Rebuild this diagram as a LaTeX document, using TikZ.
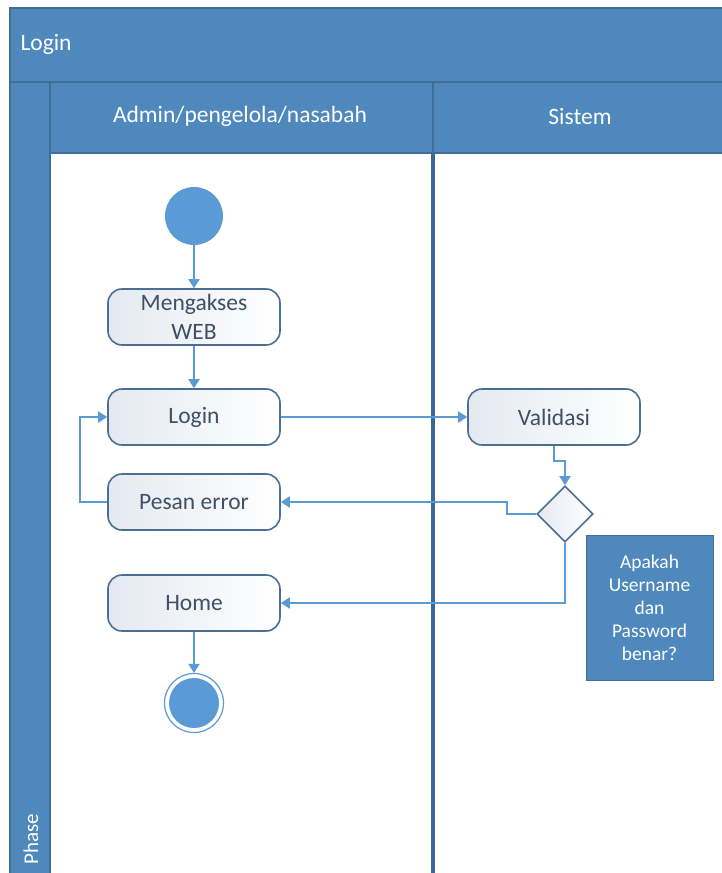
\documentclass[tikz,border=0pt]{standalone}
\usepackage{fontspec}
\setmainfont{Carlito}
\usetikzlibrary{arrows.meta,shapes.geometric}
\definecolor{hdr}{HTML}{4F88BC}
\definecolor{hdrline}{HTML}{3D6E9C}
\definecolor{divline}{HTML}{3A6A98}
\definecolor{flow}{HTML}{5B9BD5}
\definecolor{boxline}{HTML}{4A6F92}
\definecolor{boxtext}{HTML}{3E5064}
\definecolor{boxshade}{HTML}{E4E9F1}
\begin{document}
\begin{tikzpicture}[x=1pt,y=-1pt,
  actbox/.style={draw=boxline,line width=1.6pt,rounded corners=14pt,
    left color=boxshade,right color=white,minimum width=172pt,minimum height=56pt,
    inner sep=0pt,text=boxtext,font=\fontsize{23.5}{29}\selectfont,align=center},
  flowline/.style={draw=flow,line width=1.8pt,-{Triangle[length=9pt,width=11pt]}},
  lanetext/.style={text=white,font=\fontsize{23.5}{28}\selectfont}]
\useasboundingbox (0,0) rectangle (721,873);
% pool frame and headers
\fill[white] (0,0) rectangle (721,873);
\filldraw[fill=hdr,draw=hdrline,line width=1.2pt] (10,8) rectangle (730,82);
\filldraw[fill=hdr,draw=hdrline,line width=1.2pt] (10,82) rectangle (50,880);
\filldraw[fill=hdr,draw=hdrline,line width=1.2pt] (50,82) rectangle (730,153);
\draw[hdrline,line width=1.2pt] (433,82) -- (433,153);
\fill[white] (51,154) rectangle (730,880);
\draw[divline,line width=3.2pt] (433,153) -- (433,880);
\node[lanetext,anchor=west] (pool) at (17,44) {Login};
\node[lanetext] (lane1) at (240,116) {Admin/pengelola/nasabah};
\node[lanetext] (lane2) at (580,116) {Sistem};
\node[text=white,font=\fontsize{21}{24}\selectfont,rotate=90,anchor=west] (phase) at (31,868) {Phase};
% activity nodes
\node[circle,fill=flow,minimum size=58pt,inner sep=0pt] (start) at (194,216) {};
\node[actbox] (web) at (194,317) {Mengakses\\WEB};
\node[actbox] (login) at (194,417) {Login};
\node[actbox] (pesan) at (194,502) {Pesan error};
\node[actbox] (home) at (194,603) {Home};
\node[circle,draw=flow,line width=1.2pt,fill=white,minimum size=59pt,inner sep=0pt] (end) at (194,703) {};
\node[circle,fill=flow,minimum size=50pt,inner sep=0pt] (endin) at (194,703) {};
\node[actbox] (val) at (554,417) {Validasi};
\node[diamond,draw=boxline,line width=1.6pt,left color=boxshade,right color=white,
  minimum width=56pt,minimum height=56pt,inner sep=0pt] (dec) at (565,514) {};
\node[fill=hdr,draw=hdrline,line width=0.8pt,minimum width=127pt,minimum height=145pt,
  text=white,align=center,font=\fontsize{19.5}{23}\selectfont] (note) at (649.5,607.5)
  {Apakah\\Username\\dan\\Password\\benar?};
% control flow
\draw[flowline] (start) -- (web);
\draw[flowline] (web) -- (login);
\draw[flowline] (login.east) -- (val.west);
\draw[flowline] (val.south) -- ++(0,15) -| (dec.north);
\draw[flowline] (dec.west) -- ++(-29,0) |- (pesan.east);
\draw[flowline] (dec.south) |- (home.east);
\draw[flowline] (pesan.west) -- ++(-27,0) |- (login.west);
\draw[flowline] (home) -- (end);
\end{tikzpicture}
\end{document}
